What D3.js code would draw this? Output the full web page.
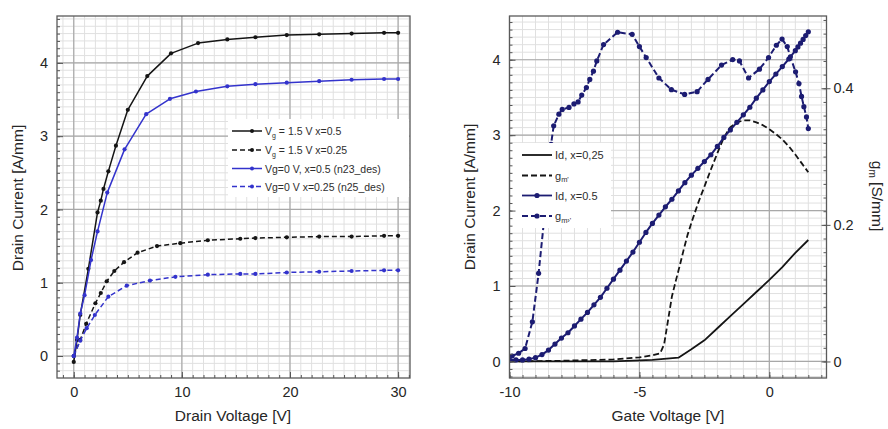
<!DOCTYPE html>
<html><head><meta charset="utf-8">
<script src="https://cdn.jsdelivr.net/npm/d3@7"></script>
<style>
html,body{margin:0;padding:0;background:#fff;}
text{font-family:"Liberation Sans",Arial,Helvetica,sans-serif;}
</style></head>
<body>
<svg id="chart" width="888" height="429"></svg>
<script>
// ---------- Left panel data (Drain Voltage sweep) ----------
const vdA = [0, 0.3, 0.6, 1.35, 2.2, 2.5, 2.75, 3.2, 3.9, 5.0, 6.8, 9.0, 11.5, 14.2, 16.8, 19.7, 22.7, 25.7, 28.7, 30];
const idA = [-0.08, 0.22, 0.56, 1.19, 1.96, 2.12, 2.28, 2.52, 2.87, 3.36, 3.82, 4.13, 4.27, 4.32, 4.35, 4.38, 4.39, 4.40, 4.41, 4.41];
const vdB = [0, 0.6, 1.15, 2.0, 2.5, 3.05, 3.75, 4.65, 5.9, 7.7, 9.85, 12.4, 15.4, 16.8, 19.7, 22.7, 25.7, 28.7, 30];
const idB = [0, 0.22, 0.44, 0.72, 0.86, 1.02, 1.16, 1.28, 1.41, 1.50, 1.54, 1.58, 1.60, 1.61, 1.62, 1.63, 1.63, 1.64, 1.64];
const vdC = [0, 0.3, 0.6, 1.0, 1.6, 2.2, 3.1, 4.7, 6.7, 8.9, 11.3, 14.2, 16.8, 19.7, 22.7, 25.7, 28.7, 30];
const idC = [0, 0.25, 0.58, 0.83, 1.31, 1.70, 2.23, 2.82, 3.30, 3.51, 3.61, 3.68, 3.71, 3.73, 3.75, 3.77, 3.78, 3.78];
const vdD = [0, 0.6, 1.2, 1.95, 3.2, 4.9, 7.05, 9.4, 12.4, 15.4, 16.8, 19.7, 22.7, 25.7, 28.7, 30];
const idD = [0, 0.21, 0.38, 0.56, 0.81, 0.96, 1.03, 1.08, 1.11, 1.12, 1.12, 1.14, 1.15, 1.16, 1.17, 1.17];
const leftLegend = ["Vg = 1.5 V x=0.5", "Vg = 1.5 V x=0.25", "Vg=0 V, x=0.5 (n23_des)", "Vg=0 V x=0.25 (n25_des)"];
const leftXTicks = [0, 10, 20, 30];
const leftYTicks = [0, 1, 2, 3, 4];

// ---------- Right panel data (Gate Voltage sweep) ----------
const vgId25 = [-10, -6, -4.5, -3.5, -3.0, -2.5, -2.0, -1.5, -1.0, -0.5, 0, 0.5, 1.0, 1.5];
const id25 = [0.0, 0.0, 0.02, 0.05, 0.16, 0.28, 0.44, 0.60, 0.76, 0.92, 1.08, 1.25, 1.44, 1.61];
const vgGm25 = [-10, -8, -6, -5, -4.5, -4.2, -4.05, -3.9, -3.75, -3.6, -3.45, -3.3, -3.15, -3.0, -2.75, -2.5, -2.25, -2.0, -1.75, -1.5, -1.25, -1.0, -0.75, -0.5, -0.25, 0, 0.25, 0.5, 0.75, 1.0, 1.25, 1.5];
const gm25 = [0.0, 0.001, 0.003, 0.006, 0.009, 0.012, 0.025, 0.06, 0.095, 0.118, 0.14, 0.163, 0.185, 0.203, 0.231, 0.256, 0.281, 0.305, 0.328, 0.343, 0.350, 0.353, 0.353, 0.350, 0.346, 0.340, 0.333, 0.325, 0.315, 0.303, 0.290, 0.277];
const vgId5 = [-10, -9.75, -9.5, -9.25, -9.0, -8.75, -8.5, -8.25, -8.0, -7.75, -7.5, -7.25, -7.0, -6.75, -6.5, -6.25, -6.0, -5.75, -5.5, -5.25, -5.0, -4.75, -4.5, -4.25, -4.0, -3.75, -3.5, -3.25, -3.0, -2.75, -2.5, -2.25, -2.0, -1.75, -1.5, -1.25, -1.0, -0.75, -0.5, -0.25, 0, 0.25, 0.5, 0.75, 1.0, 1.1, 1.2, 1.3, 1.4, 1.5];
const id5 = [0.02, 0.02, 0.02, 0.03, 0.05, 0.09, 0.15, 0.23, 0.31, 0.38, 0.47, 0.56, 0.65, 0.75, 0.85, 0.97, 1.09, 1.21, 1.33, 1.45, 1.58, 1.71, 1.83, 1.94, 2.05, 2.15, 2.26, 2.37, 2.47, 2.56, 2.65, 2.74, 2.85, 2.97, 3.07, 3.17, 3.27, 3.37, 3.49, 3.60, 3.71, 3.81, 3.91, 4.01, 4.12, 4.17, 4.22, 4.27, 4.32, 4.37];
const vgGm5 = [-9.9, -9.65, -9.4, -9.12, -8.88, -8.62, -8.4, -8.3, -8.1, -7.97, -7.71, -7.52, -7.36, -7.22, -7.04, -6.91, -6.77, -6.64, -6.38, -5.84, -5.28, -5.0, -4.74, -4.25, -3.77, -3.26, -2.78, -2.36, -1.84, -1.41, -1.15, -0.8, -0.38, -0.03, 0.27, 0.49, 0.69, 0.81, 1.01, 1.14, 1.24, 1.33, 1.43, 1.5];
const gm5 = [0.008, 0.012, 0.019, 0.058, 0.129, 0.225, 0.318, 0.345, 0.362, 0.369, 0.372, 0.377, 0.380, 0.390, 0.401, 0.413, 0.425, 0.440, 0.464, 0.482, 0.479, 0.461, 0.445, 0.415, 0.398, 0.391, 0.395, 0.413, 0.434, 0.442, 0.440, 0.415, 0.428, 0.445, 0.463, 0.472, 0.461, 0.446, 0.424, 0.407, 0.388, 0.373, 0.358, 0.341];
const rightLegend = ["Id, x=0,25", "g", "Id, x=0.5", "g"];
const rightXTicks = [-10, -5, 0];
const rightYTicks = [0, 1, 2, 3, 4];
const gmTicks = [0, 0.2, 0.4];

const svg = d3.select("#chart");
const BLACK = "#151515", BLUE = "#3333cc", NAVY = "#1c1c72";
const FONT = "'Liberation Sans', Arial, Helvetica, sans-serif";
const TXT = "#262626";

function zip(xs, ys){ return xs.map((x,i)=>[x, ys[i]]); }

function panel(opts){
  const {x, y, id} = opts;
  const [x0, x1] = x.range(), [y0, y1] = y.range();
  const g = svg.append("g");
  g.append("defs").append("clipPath").attr("id", id).append("rect")
    .attr("x", x0).attr("y", y1).attr("width", x1-x0).attr("height", y0-y1);
  g.append("g").selectAll("line").data(opts.minorX).join("line")
    .attr("x1", d=>x(d)).attr("x2", d=>x(d)).attr("y1", y1).attr("y2", y0)
    .attr("stroke", "#e0e0e0").attr("stroke-width", 1);
  g.append("g").selectAll("line").data(opts.minorY).join("line")
    .attr("y1", d=>y(d)).attr("y2", d=>y(d)).attr("x1", x0).attr("x2", x1)
    .attr("stroke", "#e0e0e0").attr("stroke-width", 1);
  g.append("g").selectAll("line").data(opts.xTicks).join("line")
    .attr("x1", d=>x(d)).attr("x2", d=>x(d)).attr("y1", y1).attr("y2", y0)
    .attr("stroke", "#a8a8a8").attr("stroke-width", 1.2);
  g.append("g").selectAll("line").data(opts.yTicks).join("line")
    .attr("y1", d=>y(d)).attr("y2", d=>y(d)).attr("x1", x0).attr("x2", x1)
    .attr("stroke", "#a8a8a8").attr("stroke-width", 1.2);
  const plot = g.append("g").attr("clip-path", `url(#${id})`);
  return {g, plot};
}

function axes(g, x, y, xTicks, yTicks, minorX, minorY){
  const [x0, x1] = x.range(), [y0, y1] = y.range();
  const ax = g.append("g").attr("transform", `translate(0,${y0})`)
    .call(d3.axisBottom(x).tickValues(xTicks).tickSizeInner(-6).tickSizeOuter(0).tickPadding(9).tickFormat(d=>String(d)));
  const ay = g.append("g").attr("transform", `translate(${x0},0)`)
    .call(d3.axisLeft(y).tickValues(yTicks).tickSizeInner(-6).tickSizeOuter(0).tickPadding(9).tickFormat(d=>String(d)));
  const mx = g.append("g").attr("transform", `translate(0,${y0})`)
    .call(d3.axisBottom(x).tickValues(minorX).tickSizeInner(-3).tickSizeOuter(0).tickFormat(""));
  const my = g.append("g").attr("transform", `translate(${x0},0)`)
    .call(d3.axisLeft(y).tickValues(minorY).tickSizeInner(-3).tickSizeOuter(0).tickFormat(""));
  [ax, ay, mx, my].forEach(a=>{
    a.select(".domain").remove();
    a.selectAll("line").attr("stroke", "#555");
    a.selectAll("text").attr("font-size", 14.5).attr("fill", TXT).attr("font-family", FONT);
  });
  g.append("rect").attr("x", x0).attr("y", y1).attr("width", x1-x0).attr("height", y0-y1)
    .attr("fill", "none").attr("stroke", "#5a5a5a").attr("stroke-width", 1.3);
}

function series(plot, x, y, pts, color, dash, width, r){
  const line = d3.line().x(d=>x(d[0])).y(d=>y(d[1]));
  plot.append("path").datum(pts).attr("d", line).attr("fill", "none")
    .attr("stroke", color).attr("stroke-width", width)
    .attr("stroke-dasharray", dash || null).attr("stroke-linejoin", "round");
  if (r) plot.append("g").selectAll("circle").data(pts).join("circle")
    .attr("cx", d=>x(d[0])).attr("cy", d=>y(d[1])).attr("r", r).attr("fill", color);
}

// ================= LEFT PANEL =================
const xL = d3.scaleLinear().domain([-1.55, 31.1]).range([57, 410]);
const yL = d3.scaleLinear().domain([-0.3, 4.64]).range([378, 16]);
const minorXL = d3.range(-1, 32, 1);
const minorYL = d3.range(-0.2, 4.65, 0.1).map(v=>+v.toFixed(2));
const L = panel({x:xL, y:yL, id:"clipL", xTicks:leftXTicks, yTicks:leftYTicks, minorX:minorXL, minorY:minorYL});
series(L.plot, xL, yL, zip(vdA, idA), BLACK, null, 1.5, 2.1);
series(L.plot, xL, yL, zip(vdB, idB), BLACK, "5,3", 1.5, 2.1);
series(L.plot, xL, yL, zip(vdC, idC), BLUE, null, 1.5, 2.1);
series(L.plot, xL, yL, zip(vdD, idD), BLUE, "5,3", 1.5, 2.1);

{
  const lg = L.g.append("g");
  lg.append("rect").attr("x", 228).attr("y", 119).attr("width", 181).attr("height", 78).attr("fill", "#fff");
  const rows = [131, 150, 168.5, 186.5];
  const styles = [[BLACK, null], [BLACK, "5,3"], [BLUE, null], [BLUE, "5,3"]];
  rows.forEach((ry, i)=>{
    lg.append("line").attr("x1", 232).attr("x2", 262).attr("y1", ry).attr("y2", ry)
      .attr("stroke", styles[i][0]).attr("stroke-width", 1.5).attr("stroke-dasharray", styles[i][1]);
    lg.append("circle").attr("cx", 252).attr("cy", ry).attr("r", 2).attr("fill", styles[i][0]);
    const t = lg.append("text").attr("x", 265).attr("y", ry + 4).attr("font-size", 10.5).attr("fill", "#2e2e2e");
    if (i < 2) {
      t.append("tspan").text("V");
      t.append("tspan").attr("font-size", 7).attr("dy", 2.5).text("g");
      t.append("tspan").attr("dy", -2.5).text(leftLegend[i].slice(2));
    } else t.text(leftLegend[i]);
  });
}
axes(L.g, xL, yL, leftXTicks, leftYTicks, minorXL, minorYL);
svg.append("text").attr("transform", "translate(23,198) rotate(-90)").attr("text-anchor", "middle")
  .attr("font-size", 15.5).attr("fill", TXT).text("Drain Current [A/mm]");
svg.append("text").attr("x", 233).attr("y", 421).attr("text-anchor", "middle")
  .attr("font-size", 15.5).attr("fill", TXT).text("Drain Voltage [V]");

// ================= RIGHT PANEL =================
const xR = d3.scaleLinear().domain([-10.0, 2.2]).range([509.5, 826.5]);
const yR = d3.scaleLinear().domain([-0.22, 4.58]).range([378, 16]);
const gR = d3.scaleLinear().domain([-0.0242, 0.5058]).range([378, 16]);
const minorXR = d3.range(-10, 2.01, 0.5).map(v=>+v.toFixed(2));
const minorYR = d3.range(-0.2, 4.55, 0.1).map(v=>+v.toFixed(2));
const R = panel({x:xR, y:yR, id:"clipR", xTicks:rightXTicks, yTicks:rightYTicks, minorX:minorXR, minorY:minorYR});
series(R.plot, xR, yR, zip(vgId25, id25), BLACK, null, 1.8, 0);
series(R.plot, xR, gR, zip(vgGm25, gm25), BLACK, "6,3", 1.8, 0);
series(R.plot, xR, yR, zip(vgId5, id5), NAVY, null, 2, 2.6);
series(R.plot, xR, gR, zip(vgGm5, gm5), NAVY, "6,3", 2, 2.6);

{
  const lg = R.g.append("g");
  lg.append("rect").attr("x", 511).attr("y", 143).attr("width", 100).attr("height", 85).attr("fill", "#fff");
  const rows = [155, 175.5, 195.5, 216];
  const styles = [[BLACK, null, 0], [BLACK, "6,3", 0], [NAVY, null, 2.6], [NAVY, "6,3", 2.6]];
  const subs = ["", "m'", "", "m\u203A'"];
  rows.forEach((ry, i)=>{
    lg.append("line").attr("x1", 522).attr("x2", 552).attr("y1", ry).attr("y2", ry)
      .attr("stroke", styles[i][0]).attr("stroke-width", 1.8).attr("stroke-dasharray", styles[i][1]);
    if (styles[i][2]) lg.append("circle").attr("cx", 537).attr("cy", ry).attr("r", styles[i][2]).attr("fill", styles[i][0]);
    const t = lg.append("text").attr("x", 555).attr("y", ry + 4).attr("font-size", 11).attr("fill", "#2e2e2e");
    t.append("tspan").text(rightLegend[i]);
    if (subs[i]) t.append("tspan").attr("font-size", 7.5).attr("dy", 2.5).text(subs[i]);
  });
}
axes(R.g, xR, yR, rightXTicks, rightYTicks, minorXR, minorYR);
{
  const minorG = d3.range(0, 0.501, 0.02).map(v=>+v.toFixed(2));
  const a1 = R.g.append("g").attr("transform", "translate(826.5,0)")
    .call(d3.axisRight(gR).tickValues(minorG).tickSizeInner(-3).tickSizeOuter(0).tickFormat(""));
  const a2 = R.g.append("g").attr("transform", "translate(826.5,0)")
    .call(d3.axisRight(gR).tickValues(gmTicks).tickSizeInner(4).tickSizeOuter(0).tickPadding(3).tickFormat(d=>String(d)));
  R.g.append("g").attr("transform", "translate(826.5,0)")
    .call(d3.axisRight(gR).tickValues(gmTicks).tickSizeInner(-5).tickSizeOuter(0).tickFormat(""))
    .call(a=>{a.select(".domain").remove(); a.selectAll("line").attr("stroke", "#555");});
  [a1, a2].forEach(a=>{
    a.select(".domain").remove();
    a.selectAll("line").attr("stroke", "#555");
    a.selectAll("text").attr("font-size", 14.5).attr("fill", TXT).attr("font-family", FONT);
  });
}
svg.append("text").attr("transform", "translate(475,197) rotate(-90)").attr("text-anchor", "middle")
  .attr("font-size", 15.5).attr("fill", TXT).text("Drain Current [A/mm]");
svg.append("text").attr("x", 668).attr("y", 421).attr("text-anchor", "middle")
  .attr("font-size", 15.5).attr("fill", TXT).text("Gate Voltage [V]");
{
  const t = svg.append("text").attr("transform", "translate(872,196) rotate(90)").attr("text-anchor", "middle")
    .attr("font-size", 15.5).attr("fill", TXT);
  t.append("tspan").text("g");
  t.append("tspan").attr("font-size", 10).attr("dy", 3).text("m");
  t.append("tspan").attr("dy", -3).text(" [S/mm]");
}
</script>
</body></html>
